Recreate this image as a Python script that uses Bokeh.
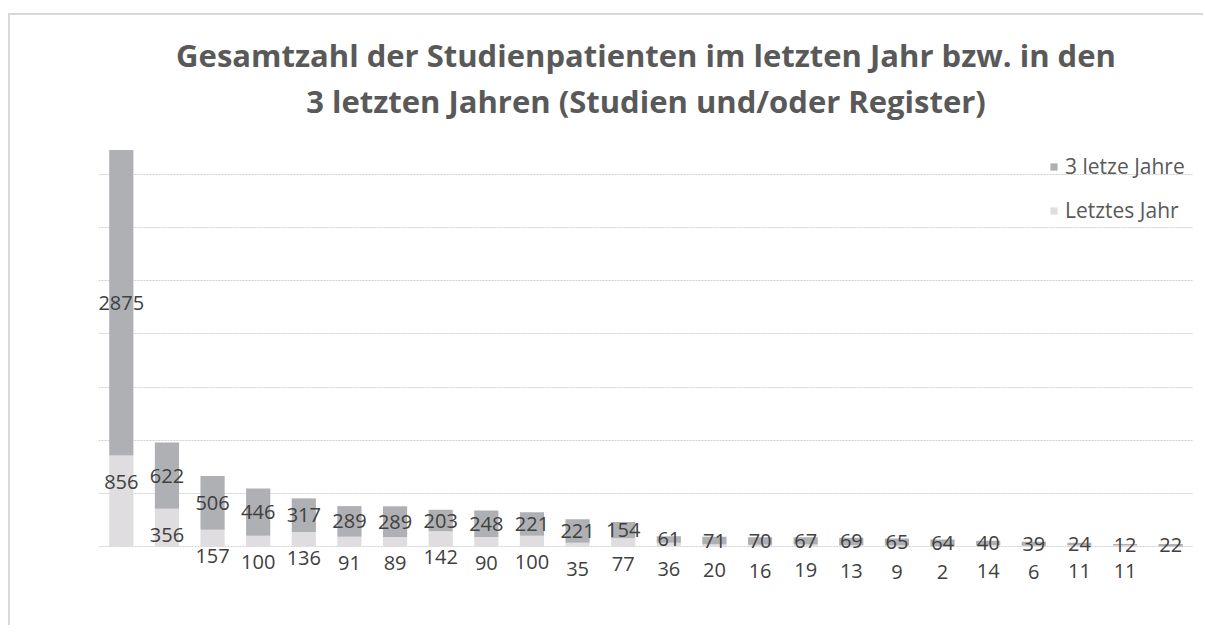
from bokeh.plotting import figure
from bokeh.models import (ColumnDataSource, Range1d, FixedTicker, Legend, LegendItem,
                          Title, LabelSet)
from bokeh.core.properties import value
from bokeh.embed import file_html
from bokeh.resources import INLINE

# ---- data ----
title_line1 = "Gesamtzahl der Studienpatienten im letzten Jahr bzw. in den"
title_line2 = "3 letzten Jahren (Studien und/oder Register)"
series_names = ["3 letze Jahre", "Letztes Jahr"]
drei_jahre = [2875, 622, 506, 446, 317, 289, 289, 203, 248, 221, 221, 154,
              61, 71, 70, 67, 69, 65, 64, 40, 39, 24, 12, 22]
letztes_jahr = [856, 356, 157, 100, 136, 91, 89, 142, 90, 100, 35, 77,
                36, 20, 16, 19, 13, 9, 2, 14, 6, 11, 11, None]
grid_values = [0, 500, 1000, 1500, 2000, 2500, 3000, 3500, 4000]

DARK = "#afb0b4"
LIGHT = "#dfdddf"
TXT = "#404040"
TITLE_C = "#595959"
FONT = "Open Sans"

n = len(drei_jahre)
xs = list(range(1, n + 1))
light_vals = [v if v is not None else 0 for v in letztes_jahr]

src = ColumnDataSource(dict(x=xs, light=light_vals, dark=drei_jahre))

p = figure(width=1195, height=612, output_backend="svg", toolbar_location=None,
           x_range=Range1d(0.5, n + 0.5), y_range=Range1d(-471, 4000),
           min_border_left=88, min_border_right=12, min_border_top=106,
           min_border_bottom=31)
p.styles = {"border-top": "2px solid #d9d9d9", "border-left": "2px solid #d9d9d9",
            "margin-top": "13px", "margin-left": "8px"}

p.xaxis.visible = False
p.yaxis.visible = False
p.xgrid.visible = False
p.yaxis.ticker = FixedTicker(ticks=grid_values)
p.ygrid.ticker = FixedTicker(ticks=grid_values)
p.ygrid.grid_line_color = "#d0d0d0"
p.ygrid.grid_line_dash = "2 1"
p.ygrid.grid_line_width = 1
p.outline_line_color = None
p.background_fill_color = "white"
p.border_fill_color = "white"

rs = p.vbar_stack(["light", "dark"], x="x", width=0.53, color=[LIGHT, DARK],
                  line_color=None, source=src)

# dark labels: centred on dark segment
dark_lab = ColumnDataSource(dict(
    x=xs,
    y=[l + d / 2 for l, d in zip(light_vals, drei_jahre)],
    t=[str(d) for d in drei_jahre]))
p.add_layout(LabelSet(x="x", y="y", text="t", source=dark_lab, text_align="center",
                      text_baseline="middle", text_font=value(FONT),
                      text_font_size="20px", text_color=TXT))

# light labels: just below top of light segment
lx, ly, lt = [], [], []
for x, v in zip(xs, letztes_jahr):
    if v is not None:
        lx.append(x); ly.append(v); lt.append(str(v))
light_lab = ColumnDataSource(dict(x=lx, y=ly, t=lt))
p.add_layout(LabelSet(x="x", y="y", text="t", source=light_lab, text_align="center",
                      text_baseline="middle", y_offset=-26, text_font=value(FONT),
                      text_font_size="20px", text_color=TXT))

legend = Legend(items=[LegendItem(label=series_names[0], renderers=[rs[1]]),
                       LegendItem(label=series_names[1], renderers=[rs[0]])],
                location=(951, 372), orientation="vertical",
                glyph_width=9, glyph_height=9, label_height=24, spacing=16,
                padding=0, margin=0, label_standoff=7,
                label_text_font=FONT, label_text_font_size="21px",
                label_text_color=TITLE_C, background_fill_alpha=0,
                border_line_alpha=0)
p.add_layout(legend)

p.add_layout(Title(text=title_line2, align="center", text_font=FONT,
                   text_font_size="31px", text_font_style="bold",
                   text_color=TITLE_C, standoff=0), "above")
p.add_layout(Title(text=title_line1, align="center", text_font=FONT,
                   text_font_size="31px", text_font_style="bold",
                   text_color=TITLE_C, standoff=4), "above")

open("out.html", "w").write(file_html(p, INLINE))
